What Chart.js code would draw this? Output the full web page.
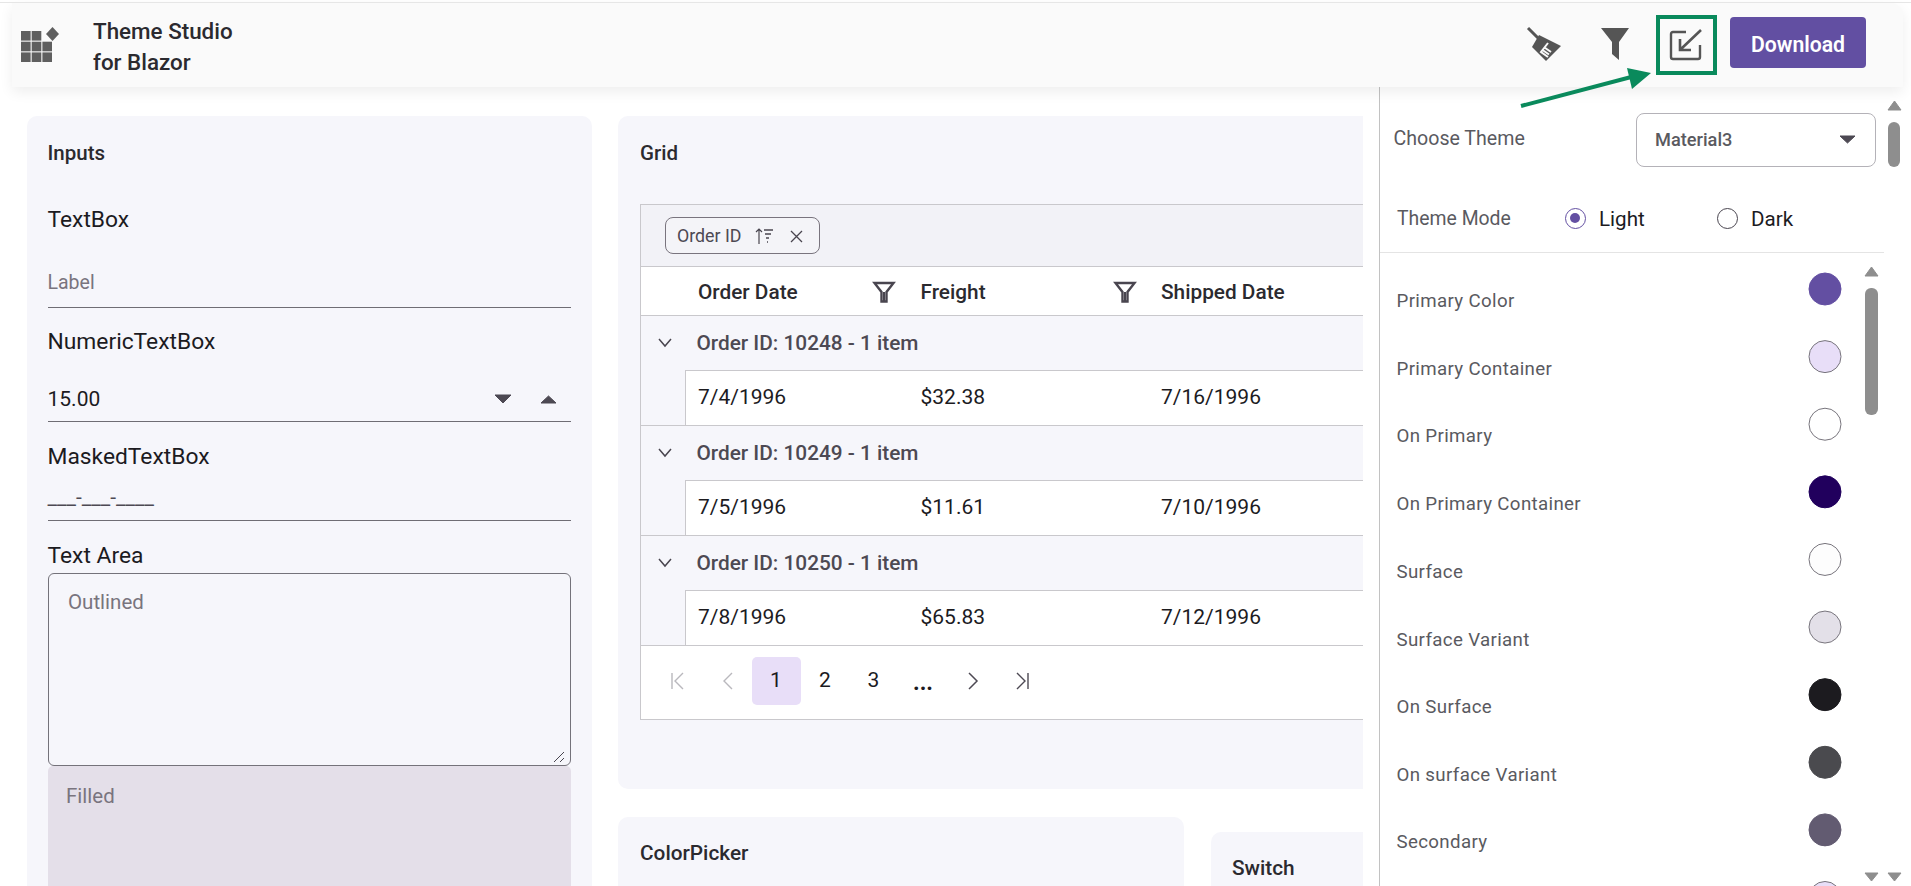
<!DOCTYPE html>
<html><head><meta charset="utf-8"><title>Theme Studio for Blazor</title>
<script src="https://cdn.jsdelivr.net/npm/chart.js@4"></script>
<style>
html,body{margin:0;padding:0;width:1911px;height:886px;overflow:hidden;background:#fff;font-family:Roboto,sans-serif}
.b{position:absolute;box-sizing:border-box}
.t{position:absolute;white-space:nowrap;transform:translateY(-50%);line-height:1.2}
.c{transform:translate(-50%,-50%)}
svg{position:absolute;overflow:visible}
canvas{position:absolute}
</style></head><body>
<div id="root"></div>
<canvas id="swatches" width="90" height="626" style="left:1780px;top:260px;width:90px;height:626px;z-index:5"></canvas>
<script>
const swatchNames=["Primary Color","Primary Container","On Primary","On Primary Container","Surface","Surface Variant","On Surface","On surface Variant","Secondary","Secondary Container"];
const swatchFill=["#634fa2","#e8def8","#ffffff","#21005d","#fdfdfd","#e3e0e8","#1c1b1f","#4a4a4e","#625b71","#e8def8"];
const swatchEdge=["#634fa2","#77747c","#77747c","#21005d","#77747c","#77747c","#1c1b1f","#4a4a4e","#625b71","#77747c"];
const swatchRows=[0,1,2,3,4,5,6,7,8,9];
const swatchColumn=[0.5,0.5,0.5,0.5,0.5,0.5,0.5,0.5,0.5,0.5];
const groupLabels=["Order ID: 10248 - 1 item","Order ID: 10249 - 1 item","Order ID: 10250 - 1 item"];
const orderDates=["7/4/1996","7/5/1996","7/8/1996"];
const freights=["$32.38","$11.61","$65.83"];
const shippedDates=["7/16/1996","7/10/1996","7/12/1996"];
const columns=["Order Date","Freight","Shipped Date"];

const root=document.getElementById('root');
function box(x,y,w,h,css){const d=document.createElement('div');d.className='b';d.style.cssText=`left:${x}px;top:${y}px;width:${w}px;height:${h}px;`+(css||'');root.appendChild(d);return d}
function text(s,x,y,size,color,weight,extra){const d=document.createElement('div');d.className='t';d.textContent=s;d.style.cssText=`left:${x}px;top:${y}px;font-size:${size}px;color:${color};font-weight:${weight||400};`+(extra||'');root.appendChild(d);return d}
function ctext(s,x,y,size,color,weight,extra){const d=text(s,x,y,size,color,weight,extra);d.classList.add('c');return d}
function svg(x,y,w,h,inner,z){const n=document.createElementNS('http://www.w3.org/2000/svg','svg');n.setAttribute('width',w);n.setAttribute('height',h);n.setAttribute('viewBox',`0 0 ${w} ${h}`);n.style.left=x+'px';n.style.top=y+'px';if(z)n.style.zIndex=z;n.innerHTML=inner;root.appendChild(n);return n}
function tri(cx,cy,w,h,up,col,z){const p=up?`0,${h} ${w},${h} ${w/2},0`:`0,0 ${w},0 ${w/2},${h}`;svg(cx-w/2,cy-h/2,w,h,`<polygon points="${p}" fill="${col}" stroke="${col}" stroke-linejoin="round" stroke-width="1"/>`,z)}
const card='#f6f6fb',ink='#1c1b1f',head='#2b2a2f',mid='#4d4953',soft='#79747e',line='#c9c8cc',sub='#5a5a5f';

// cards
box(26.5,116,565,790,`background:${card};border-radius:10px`);
box(618,116,745,673,`background:${card};border-radius:10px 0 0 10px`);
box(618,817,566,90,`background:${card};border-radius:10px`);
box(1211,832,152,70,`background:${card};border-radius:10px 0 0 0`);

// inputs
text("Inputs",47.5,153,20.5,head,500);
text("TextBox",47.5,220,22.8,ink);
text("Label",47.5,282.5,19.5,soft);
box(47.5,307,523,1,'background:#6f6d74');
text("NumericTextBox",47.5,342,22.8,ink);
text("15.00",47.5,399.5,21,ink);
tri(503,399,16,8,false,mid);tri(548,399,15,7,true,mid);
box(47.5,421,523,1,'background:#6f6d74');
text("MaskedTextBox",47.5,456.5,22.8,ink);
text("___-___-____",47.5,498,21,mid);
box(47.5,520,523,1,'background:#6f6d74');
text("Text Area",47.5,555.5,22.8,ink);
box(47.5,573,523,193,'border:1px solid #74727a;border-radius:6px');
text("Outlined",68,601.5,20.5,soft);
svg(553,750,14,14,`<path d="M1 12 L11 2 M7 12 L11 8" stroke="#49454f" stroke-width="1" fill="none"/>`);
box(47.5,766,523,140,'background:#e4dfe9;border-radius:5px 5px 0 0');
text("Filled",66,796,20.5,soft);

// grid
text("Grid",640,153,20.5,head,500);
box(640,204,723,516,'background:#fff;border:1px solid #c9c8cc;border-right:none');
box(641,205,722,61,'background:#f2f2f7');
box(665,217,155,37,'border:1px solid #79747e;border-radius:8px;background:#f4f4f8');
text("Order ID",677,236,17.8,mid,400);
svg(755,226,20,20,`<path d="M4 18 V3 M1 6 L4 3 L7 6" stroke="#49454f" stroke-width="1.2" fill="none"/><path d="M9 4 H18 M10 8 H16 M11 12 H14 M12 16 H13" stroke="#49454f" stroke-width="1.3" fill="none"/>`);
svg(790,230,13,13,`<path d="M1 1 L12 12 M12 1 L1 12" stroke="#49454f" stroke-width="1.3" fill="none"/>`);
box(641,266,722,1,`background:${line}`);
text(columns[0],698,292,20.8,head,500);
text(columns[1],920.5,292,20.8,head,500);
text(columns[2],1161,292,20.8,head,500);
[884,1124.5].forEach(x=>svg(x-11,281,22,22,`<path d="M1.5 2 H20.5 L13.5 11 V20.5 H8.5 V11 Z" fill="none" stroke="#49454f" stroke-width="2.4" stroke-linejoin="miter"/><path d="M10 11 H12 V20 H10 Z" fill="#49454f"/>`));
box(641,315,722,1,`background:${line}`);
const groupTop=[316,426,536];
groupLabels.forEach((g,i)=>{
  const y=groupTop[i];
  box(641,y,722,55,`background:${card}`);
  svg(658,y+22,14,10,`<path d="M1 1 L7 8 L13 1" stroke="#49454f" stroke-width="1.5" fill="none"/>`);
  text(g,696.5,y+27,20.8,mid,500);
  box(641,y+55,44,54,`background:${card}`);
  box(685,y+54,678,1,`background:${line}`);
  box(685,y+54,1,55,`background:${line}`);
  text(orderDates[i],698,y+82,21,ink);
  text(freights[i],920.5,y+82,21,ink);
  text(shippedDates[i],1161,y+82,21,ink);
  box(641,y+109,722,1,`background:${line}`);
});
box(752,657,49,48,'background:#e8def8;border-radius:5px');
[["1",776],["2",825],["3",873.5]].forEach(p=>ctext(p[0],p[1],681,21,ink));
ctext("...",923,683,23,ink,700);
svg(670,672,16,18,`<path d="M2 1 V17 M13 1 L5 9 L13 17" stroke="#b9b8bd" stroke-width="1.4" fill="none"/>`);
svg(722,672,12,18,`<path d="M10 1 L2 9 L10 17" stroke="#b9b8bd" stroke-width="1.4" fill="none"/>`);
svg(967,672,12,18,`<path d="M2 1 L10 9 L2 17" stroke="${mid}" stroke-width="1.5" fill="none"/>`);
svg(1014,672,16,18,`<path d="M14 1 V17 M3 1 L11 9 L3 17" stroke="${mid}" stroke-width="1.4" fill="none"/>`);
text("ColorPicker",640,853,20.8,head,500);
text("Switch",1232,868,20.8,head,500);

// right panel
box(1363,87,548,799,'background:#fff');
box(1378.5,87,1,799,'background:#c2c2c2');
text("Choose Theme",1393.5,138.5,19.6,sub);
box(1636,113,240,54,'border:1px solid #b4b2b8;border-radius:8px;background:#fff');
text("Material3",1655,139.5,18.2,sub,500);
tri(1847,139,15,7,false,mid);
text("Theme Mode",1397,218.5,19.4,sub);
box(1564.5,207.5,21,21,'border:1.5px solid #634fa2;border-radius:50%');
box(1570,213,10,10,'background:#634fa2;border-radius:50%');
text("Light",1599,219,20.6,ink);
box(1716.5,207.5,21,21,'border:1.5px solid #49454f;border-radius:50%');
text("Dark",1751,219,20.6,ink);
box(1380,252,504,1,'background:#e4e4e4');
tri(1894,105,13,9,true,'#8e8e8e');
box(1888,122,12,45,'background:#8e8e8e;border-radius:6px');
tri(1871,271,13,9,true,'#8e8e8e');
box(1865,288,12.5,127,'background:#8e8e8e;border-radius:6px');
tri(1871,877,13,8,false,'#8e8e8e',6);tri(1894,877,13,8,false,'#8e8e8e',6);
const labelY=[301,369,436,504,572,640,707,775,842];
labelY.forEach((y,i)=>text(swatchNames[i],1396.5,y,18.7,sub,400,'letter-spacing:.35px'));

// header
box(12,3,1891,84,'background:#fafafa;border-radius:0 12px 0 0;box-shadow:0 5px 14px rgba(0,0,0,.07);z-index:3');
box(0,2,1911,1,'background:#e6e6e6;z-index:3');
const logoCells=[];for(let r=0;r<3;r++)for(let c=0;c<3;c++)if(!(r==0&&c==2))logoCells.push(`<rect x="${c*10.7}" y="${r*10.7}" width="9.6" height="9.6" fill="#5f5f5f"/>`);
svg(21,31,40,32,logoCells.join('')+`<polygon points="31.5,-4 38,3 31.5,10 25,3" fill="#5f5f5f"/>`,4);
text("Theme Studio",93,31,22.4,head,500).style.zIndex=4;
text("for Blazor",93,62,22.4,head,500).style.zIndex=4;
svg(1527,27,34,36,`<path d="M1 1 L12 12" stroke="#555" stroke-width="3"/><polygon points="12,8 34,19 19,34 5,20" fill="#555"/><path d="M21 16 L14 25 L21 30 M17.5 20.5 L24 25 M15.5 23 L22 27.5" stroke="#fafafa" stroke-width="2" fill="none"/>`,4);
svg(1600,27,30,33,`<polygon points="1,1 29,1 19,15 19,33 12,27 12,15" fill="#555"/>`,4);
svg(1670,29,32,32,`<path d="M16 3 H3 Q1 3 1 5 V28 Q1 30 3 30 H28 Q30 30 30 28 V16" fill="none" stroke="#555" stroke-width="2.4"/><path d="M31 1 L11 20 M10 10 V21 H21" fill="none" stroke="#555" stroke-width="2.6"/>`,4);
box(1655.5,14.5,61,60,'border:4px solid #0a8a5c;z-index:4');
box(1730,17,136,51,'background:#624fa2;border-radius:4px;z-index:4');
ctext("Download",1798,44.5,21.2,'#ffffff',600).style.zIndex=5;
svg(1515,60,145,55,`<path d="M6 46 L120 16" stroke="#0a8a5c" stroke-width="4"/><polygon points="112,8 136,13 117,29" fill="#0a8a5c"/>`,6);

new Chart(document.getElementById('swatches'),{
  type:'scatter',
  data:{datasets:[{
    data:swatchRows.map((r,i)=>({x:swatchColumn[i],y:r})),
    pointRadius:16,pointHoverRadius:16,pointBorderWidth:1,
    pointBackgroundColor:swatchFill,pointBorderColor:swatchEdge,clip:false
  }]},
  options:{
    responsive:false,animation:false,devicePixelRatio:1,events:[],
    layout:{padding:0,autoPadding:false},
    plugins:{legend:{display:false},tooltip:{enabled:false},title:{display:false}},
    scales:{
      x:{type:'linear',display:false,min:0,max:1},
      y:{type:'linear',display:false,reverse:true,min:-0.429,max:8.83}
    }
  }
});
</script></body></html>
